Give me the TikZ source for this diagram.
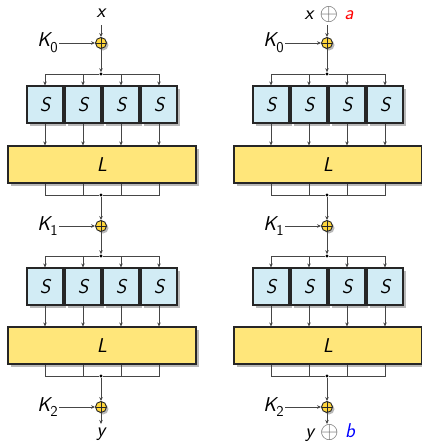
\documentclass[tikz,border=0pt]{standalone}
\usepackage{fontspec}
\usetikzlibrary{arrows.meta,shadows}
\definecolor{sfill}{RGB}{210,236,245}
\definecolor{lfill}{RGB}{255,230,122}
\definecolor{xfill}{RGB}{255,214,60}
\definecolor{ln}{RGB}{70,70,70}
\definecolor{shd}{RGB}{185,185,185}
\newcommand{\gxor}{\textcolor{black!60}{\raisebox{-0.05em}{\scalebox{1.15}{$\oplus$}}}}
\newcommand{\ksub}[1]{\raisebox{-0.28em}{\fontsize{15}{15}\selectfont\upshape #1}}
\begin{document}
\begin{tikzpicture}[x=1pt,y=-1pt,
  font=\sffamily\itshape\fontsize{20}{24}\selectfont,
  shd/.style={drop shadow={shadow xshift=2.5pt,shadow yshift=-2.5pt,fill=shd,opacity=1}},
  sbox/.style={draw=black!85,line width=1.1pt,fill=sfill,minimum width=36pt,minimum height=37pt,inner sep=0pt,shd},
  lbox/.style={draw=black!85,line width=1.1pt,fill=lfill,minimum width=188pt,minimum height=37pt,inner sep=0pt,shd},
  xor/.style={circle,draw=black!85,line width=0.9pt,fill=xfill,minimum size=11pt,inner sep=0pt,
    drop shadow={shadow xshift=2pt,shadow yshift=-2pt,fill=shd,opacity=1},
    path picture={\draw[black!85,line width=0.9pt] (path picture bounding box.north) -- (path picture bounding box.south)
      (path picture bounding box.west) -- (path picture bounding box.east);}},
  jdot/.style={circle,fill=black,inner sep=0pt,minimum size=3.2pt},
  con/.style={draw=ln,line width=0.65pt,-{Stealth[length=4pt,width=3.5pt]}},
  lnk/.style={draw=ln,line width=0.65pt},
  klab/.style={anchor=east,inner sep=1pt}]
\useasboundingbox (0,0) rectangle (421,445);
\foreach \c/\dx in {A/0,B/226} {
  \begin{scope}[xshift=\dx pt]
    % round 0 key
    \node[xor] (x0\c) at (101,43) {};
    \node[klab] (k0\c) at (59,43) {K\ksub{0}};
    \draw[con] (k0\c) -- (x0\c);
    \node[jdot] (d0\c) at (101,74) {};
    \draw[con] (x0\c) -- (d0\c);
    % S row 1
    \node[lbox] (l1\c) at (102,164.5) {L};
    \foreach \i/\sx in {1/45,2/83,3/121,4/159} {
      \node[sbox] (s1\c\i) at (\sx,104.5) {S};
      \draw[con] (d0\c) -| (s1\c\i.north);
      \draw[con] (s1\c\i.south) -- (s1\c\i.south |- l1\c.north);
    }
    \node[jdot] (b1\c) at (101,195) {};
    \foreach \i in {1,2,3,4} {
      \draw[lnk] (s1\c\i.south |- l1\c.south) |- (b1\c);
    }
    % round 1 key
    \node[xor] (x1\c) at (101,226) {};
    \node[klab] (k1\c) at (59,226) {K\ksub{1}};
    \draw[con] (k1\c) -- (x1\c);
    \draw[con] (b1\c) -- (x1\c);
    \node[jdot] (d1\c) at (101,256) {};
    \draw[con] (x1\c) -- (d1\c);
    % S row 2
    \node[lbox] (l2\c) at (102,345.5) {L};
    \foreach \i/\sx in {1/45,2/83,3/121,4/159} {
      \node[sbox] (s2\c\i) at (\sx,286.5) {S};
      \draw[con] (d1\c) -| (s2\c\i.north);
      \draw[con] (s2\c\i.south) -- (s2\c\i.south |- l2\c.north);
    }
    \node[jdot] (b2\c) at (101,376) {};
    \foreach \i in {1,2,3,4} {
      \draw[lnk] (s2\c\i.south |- l2\c.south) |- (b2\c);
    }
    % round 2 key
    \node[xor] (x2\c) at (101,407) {};
    \node[klab] (k2\c) at (59,407) {K\ksub{2}};
    \draw[con] (k2\c) -- (x2\c);
    \draw[con] (b2\c) -- (x2\c);
    \coordinate (t\c) at (101,25);
    \coordinate (e\c) at (101,424);
    \draw[con] (t\c) -- (x0\c);
    \draw[con] (x2\c) -- (e\c);
  \end{scope}
}
\node[inner sep=0pt] (inA) at (101,13) {x};
\node[inner sep=0pt] (inB) at (329,14.5) {x \gxor{} \textcolor{red}{a}};
\node[inner sep=0pt] (outA) at (101,434) {y};
\node[inner sep=0pt] (outB) at (330,433) {y \gxor{} \textcolor{blue}{b}};
\end{tikzpicture}
\end{document}
